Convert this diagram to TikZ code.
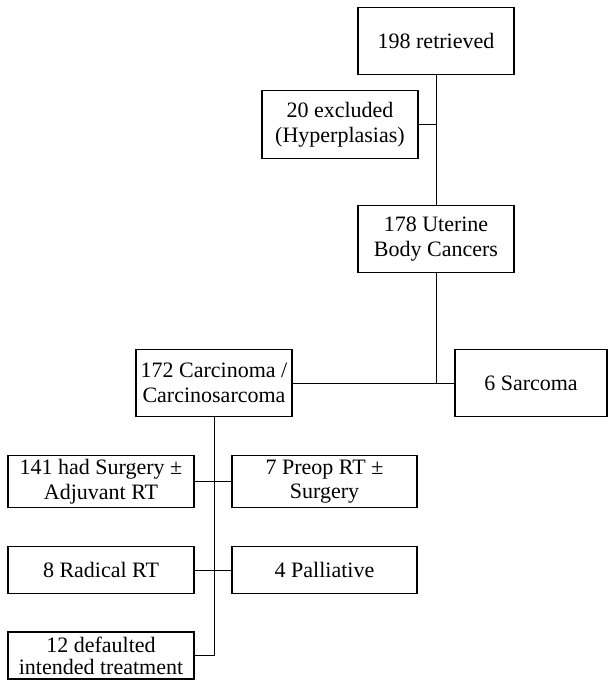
\documentclass[tikz,border=0pt]{standalone}
\usepackage{fontspec}
\setmainfont{Liberation Serif}
\usetikzlibrary{positioning}

\begin{document}
\begin{tikzpicture}[node distance={38pt},
    box/.style = {draw, line width=1.1pt, align=center, inner sep=0pt, outer sep=0pt,
        font=\fontsize{22}{24.5}\selectfont, minimum width=156pt, minimum height=67pt},
    wide/.style = {box, minimum width=186pt, minimum height=52pt},
    low/.style = {wide, minimum height=47pt}]
    \useasboundingbox (0pt,0pt) rectangle (608pt,-681pt);

    \node[box] (ret) at (436pt,-41pt) {198 retrieved};
    \node[box, minimum height=68pt] (excl) [below left=16pt and 18pt of ret.south, anchor=north east] {20 excluded\\(Hyperplasias)};
    \node[box] (ube) [below=131pt of ret] {178 Uterine\\Body Cancers};
    \node[box] (carc) [below left=77pt and 144pt of ube.south, anchor=north east] {172 Carcinoma /\\Carcinosarcoma};
    \node[box, minimum width=152pt] (sarc) [right=163pt of carc] {6 Sarcoma};
    \node[wide] (surg) [below left=39pt and 20pt of carc.south, anchor=north east] {141 had Surgery ±\\Adjuvant RT};
    \node[wide, minimum width=185pt] (preop) [right=of surg] {7 Preop RT ±\\Surgery};
    \node[low] (rad) [below=39pt of surg] {8 Radical RT};
    \node[low, minimum width=185pt] (pall) [right=of rad] {4 Palliative};
    \node[low, font=\fontsize{22}{22}\selectfont] (def) [below=38.5pt of rad] {12 defaulted\\intended treatment};

    \draw[line width=1pt] (ret) -- (ube);
    \draw[line width=1pt] (excl) -- (excl -| ret.south);
    \draw[line width=1pt] (ube) -- (ube.south |- carc);
    \draw[line width=1pt] (carc) -- (sarc);
    \draw[line width=1pt] (carc) -- (carc.south |- def);
    \draw[line width=1pt] (surg) -- (preop);
    \draw[line width=1pt] (rad) -- (pall);
    \draw[line width=1pt] (def) -- (def -| carc.south);
\end{tikzpicture}
\end{document}
